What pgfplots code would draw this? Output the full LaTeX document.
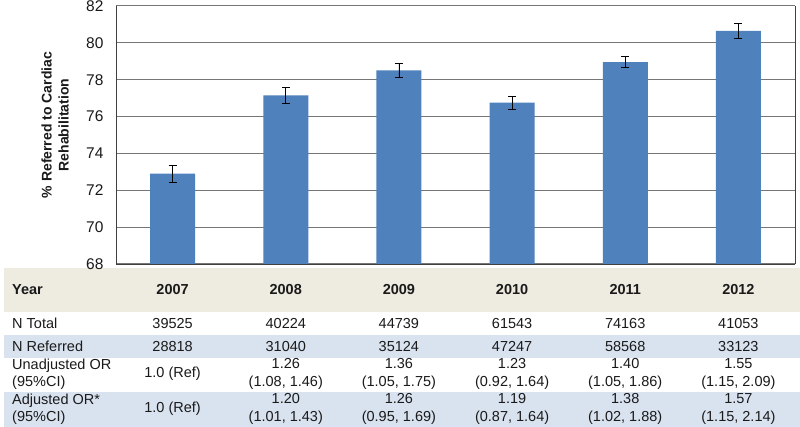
\documentclass[border=0pt]{standalone}
\usepackage{fontspec}
\setmainfont{Liberation Sans}
\usepackage{pgfplots}
\pgfplotsset{compat=1.18}
\definecolor{barblue}{HTML}{4F81BD}
\definecolor{hdr}{HTML}{EEECE1}
\definecolor{rowblue}{HTML}{D9E2EF}
\definecolor{gridc}{HTML}{767676}
\definecolor{axc}{HTML}{404040}
\definecolor{txt}{HTML}{1A1A1A}
\newcommand{\tf}{\fontsize{14.5}{17.5}\selectfont}
\newcommand{\col}[7]{%
  \node at (#1pt,-323.5pt) {#2};
  \node at (#1pt,-346.5pt) {#3};
  \node[align=center] at (#1pt,-374pt) {#4\\#5};
  \node[align=center] at (#1pt,-409pt) {#6\\#7};}
\begin{document}
\begin{tikzpicture}
\useasboundingbox (0,0) rectangle (800pt,-427pt);
\fill[white] (0,0) rectangle (800pt,-427pt);
\fill[hdr] (4pt,-268pt) rectangle (800pt,-312pt);
\fill[rowblue] (4pt,-335pt) rectangle (800pt,-358pt);
\fill[rowblue] (4pt,-392pt) rectangle (800pt,-427pt);
\begin{axis}[
  at={(116pt,-264pt)}, anchor=south west,
  width=679pt, height=258pt, scale only axis,
  xmin=-0.5, xmax=5.5, ymin=68, ymax=82,
  ytick={68,70,...,82},
  xtick={0,1,2,3,4,5},
  xticklabels={2007,2008,2009,2010,2011,2012},
  xticklabel style={font=\fontsize{14.5}{17}\bfseries, text=txt, anchor=center, yshift=-26pt},
  yticklabel style={font=\fontsize{15.5}{17}\selectfont, text=txt, xshift=-9pt},
  /pgf/number format/assume math mode=true,
  major tick length=0pt,
  ymajorgrids, grid style={gridc, line width=1pt},
  axis line style={axc, line width=0.9pt},
  axis x line*=bottom, axis y line*=left,
  clip=false,
]
\addplot[ybar, bar width=45pt, fill=barblue, draw=none,
  error bars/.cd, y dir=both, y explicit,
  error bar style={black, line width=0.7pt},
  error mark options={rotate=90, mark size=4pt, black, line width=0.7pt}]
  table[x=x, y=y, y error=e] {
x y e
0 72.90 0.45
1 77.15 0.42
2 78.50 0.39
3 76.75 0.35
4 78.95 0.30
5 80.65 0.40
};
\draw[axc, line width=0.9pt] (rel axis cs:1,0) -- (rel axis cs:1,1);
\end{axis}
\node[rotate=90, align=center, font=\fontsize{14}{17}\bfseries, text=txt] at (55pt,-125pt) {\% Referred to Cardiac\\Rehabilitation};
\begin{scope}[every node/.style={font=\tf, text=txt, inner sep=0pt}]
\node[anchor=west, font=\fontsize{14.5}{17}\bfseries] at (12pt,-290pt) {Year};
\node[anchor=west] at (12pt,-323.5pt) {N Total};
\node[anchor=west] at (12pt,-346.5pt) {N Referred};
\node[anchor=west, align=left] at (12pt,-374pt) {Unadjusted OR\\(95\%CI)};
\node[anchor=west, align=left] at (12pt,-409pt) {Adjusted OR*\\(95\%CI)};
\node at (172.6pt,-323.5pt) {39525};
\node at (172.6pt,-346.5pt) {28818};
\node at (172.6pt,-374pt) {1.0 (Ref)};
\node at (172.6pt,-409pt) {1.0 (Ref)};
\col{285.8}{40224}{31040}{1.26}{(1.08, 1.46)}{1.20}{(1.01, 1.43)}
\col{398.9}{44739}{35124}{1.36}{(1.05, 1.75)}{1.26}{(0.95, 1.69)}
\col{512.1}{61543}{47247}{1.23}{(0.92, 1.64)}{1.19}{(0.87, 1.64)}
\col{625.2}{74163}{58568}{1.40}{(1.05, 1.86)}{1.38}{(1.02, 1.88)}
\col{738.4}{41053}{33123}{1.55}{(1.15, 2.09)}{1.57}{(1.15, 2.14)}
\end{scope}
\end{tikzpicture}
\end{document}
